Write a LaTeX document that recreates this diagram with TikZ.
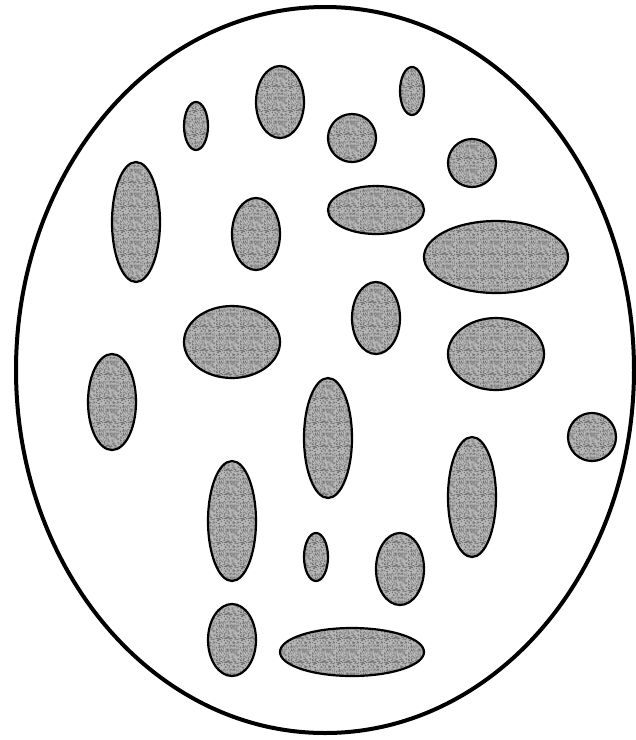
\documentclass[tikz,border=0pt]{standalone}
\usetikzlibrary{patterns}
\definecolor{speck}{RGB}{182,182,182}
\definecolor{speckdark}{RGB}{118,118,118}
\pgfmathsetseed{4711}
\pgfdeclarepatternformonly{noise}{\pgfpointorigin}{\pgfpoint{24pt}{24pt}}{\pgfpoint{24pt}{24pt}}{%
  \foreach \i in {1,...,230}{%
    \pgfmathrandominteger{\a}{0}{23}%
    \pgfmathrandominteger{\b}{0}{23}%
    \pgfpathrectangle{\pgfpoint{\a pt}{\b pt}}{\pgfpoint{1pt}{1pt}}%
  }%
  \pgfusepath{fill}%
}
\tikzset{
  cellwall/.style={draw=black, line width=4pt},
  blob/.style={draw=black, line width=2.2pt, fill=speck,
    preaction={fill=speck}, pattern=noise, pattern color=speckdark}
}
\begin{document}
\begin{tikzpicture}[x=1pt,y=-1pt]
\useasboundingbox (0,0) rectangle (636,740);
\draw[cellwall] (325,370) ellipse [x radius=309, y radius=363];
% inner ellipses: centre, x radius, y radius
\foreach \cx/\cy/\rx/\ry in {
  196/126/12/24, 280/102/24/36, 352/138/24/24, 412/91/12/24,
  472/163/24/24, 136/222/24/60, 256/234/24/36, 376/210/48/24,
  496/257/72/36, 232/342/48/36, 376/318/24/36, 496/354/48/36,
  112/402/24/48, 592/437/24/24, 328/438/24/60, 472/497/24/60,
  232/521/24/60, 316/557/12/24, 400/569/24/36, 232/640/24/36,
  352/652/72/24}
  \draw[blob] (\cx,\cy) ellipse [x radius=\rx, y radius=\ry];
\end{tikzpicture}
\end{document}
